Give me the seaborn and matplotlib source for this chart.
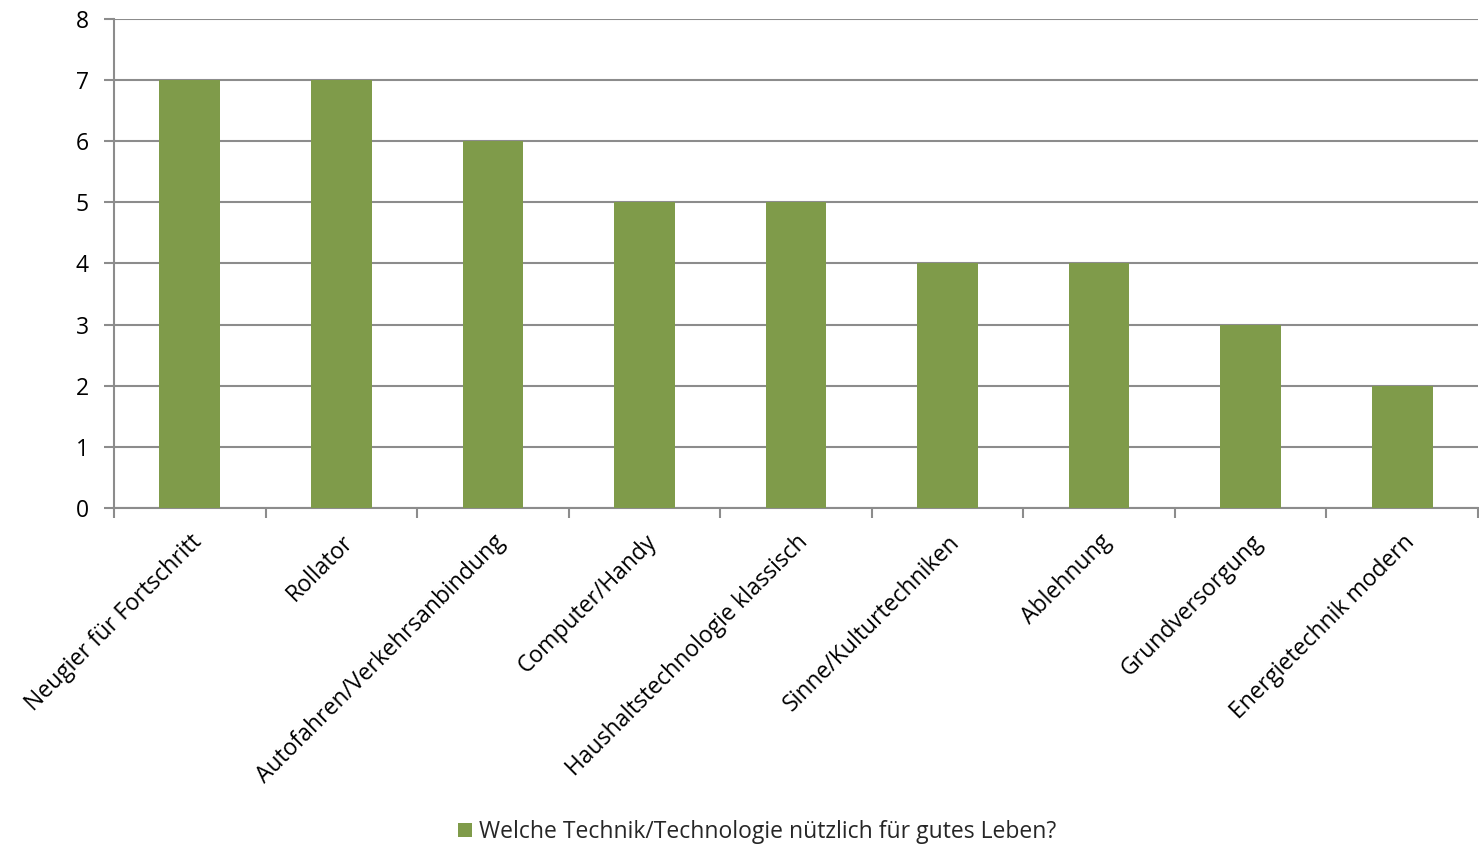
import matplotlib
matplotlib.use("Agg")
import matplotlib.pyplot as plt
import seaborn as sns
import pandas as pd
import numpy as np
from matplotlib.patches import Patch

categories = ["Neugier für Fortschritt", "Rollator", "Autofahren/Verkehrsanbindung",
              "Computer/Handy", "Haushaltstechnologie klassisch", "Sinne/Kulturtechniken",
              "Ablehnung", "Grundversorgung", "Energietechnik modern"]
values = [7, 7, 6, 5, 5, 4, 4, 3, 2]
series_name = "Welche Technik/Technologie nützlich für gutes Leben?"
yticks = [0, 1, 2, 3, 4, 5, 6, 7, 8]

sns.set_theme(style="white")
plt.rcParams['font.family'] = ['Open Sans', 'DejaVu Sans']

df = pd.DataFrame({"cat": categories, "val": values})
bar_color = "#7F9B4A"
grid_color = "#8C8C8C"
fs = 16.5

fig = plt.figure(figsize=(14.79, 8.46), dpi=100)
ax = fig.add_axes([114/1479, 1-508/846, (1478-114)/1479, (508-19)/846])
sns.barplot(data=df, x="cat", y="val", color=bar_color, width=0.4, saturation=1,
            ax=ax, zorder=3)
for p in ax.patches:
    p.set_edgecolor("none")

ax.set_xlim(-0.5, len(categories) - 0.5)
ax.set_ylim(0, 8)
ax.set_yticks(yticks)
ax.set_yticklabels([str(t) for t in yticks], fontsize=fs, color="#000000")
ax.yaxis.grid(True, color=grid_color, linewidth=1.5, zorder=0)
ax.set_axisbelow(True)
ax.set_xlabel("")
ax.set_ylabel("")

ax.set_xticks(range(len(categories)))
ax.set_xticklabels(categories, rotation=45, ha="right", rotation_mode="anchor",
                   fontsize=fs, color="#000000")
ax.tick_params(axis="x", which="major", length=0, pad=16, bottom=True)
ax.set_xticks(np.arange(-0.5, len(categories), 1.0), minor=True)
ax.tick_params(axis="x", which="minor", length=7, width=1.5, color=grid_color,
               direction="out", bottom=True)
ax.tick_params(axis="y", which="major", length=7, width=1.5, color=grid_color,
               direction="out", pad=11, left=True)

for s in ["top", "right"]:
    ax.spines[s].set_visible(False)
ax.spines["left"].set_color(grid_color)
ax.spines["left"].set_linewidth(1.5)
ax.spines["bottom"].set_color(grid_color)
ax.spines["bottom"].set_linewidth(1.5)

handle = Patch(facecolor=bar_color, edgecolor="none", label=series_name)
fig.legend(handles=[handle], loc="center", bbox_to_anchor=(757/1479, 1-832/846),
           frameon=False, fontsize=fs, handlelength=0.6, handleheight=0.6,
           handletextpad=0.3)

fig.savefig("out.png", dpi=100)
